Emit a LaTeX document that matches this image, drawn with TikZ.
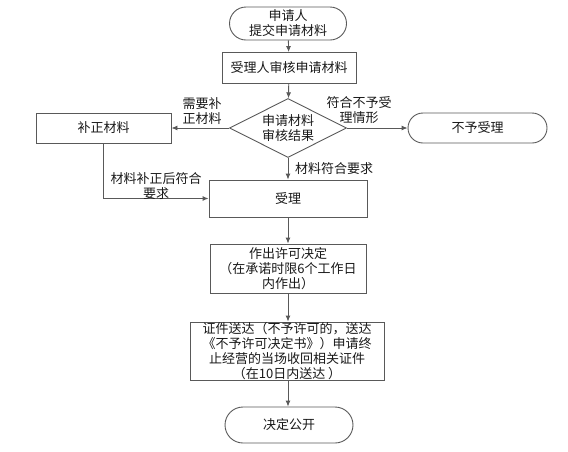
\documentclass[tikz,border=0pt]{standalone}
\usepackage{fontspec}
\setmainfont{Noto Sans CJK SC}
\usetikzlibrary{shapes.misc,shapes.geometric,arrows.meta}
\begin{document}
\begin{tikzpicture}[x=1pt,y=-1pt,
  every node/.style={font=\fontsize{13}{15}\selectfont, text=black!90, inner sep=0pt},
  box/.style={draw=black!65, line width=0.9pt, fill=white, align=center},
  term/.style={draw=black!65, line width=0.9pt, rounded rectangle, align=center},
  dia/.style={draw=black!65, line width=0.9pt, diamond, aspect=2, align=center},
  arr/.style={draw=black!65, line width=0.9pt, -{Latex[length=6pt,width=5pt]}},
  lab/.style={align=center}]
\useasboundingbox (0,0) rectangle (568,451);
\node[term, minimum width=117pt, minimum height=33pt] (start) at (288,23.5) {申请人\\提交申请材料};
\node[box, minimum width=134pt, minimum height=31pt] (review) at (289,68) {受理人审核申请材料};
\node[dia, minimum width=117pt, minimum height=59pt] (dec) at (288,128) {申请材料\\审核结果};
\node[box, minimum width=135pt, minimum height=30pt] (fix) at (103.5,128) {补正材料};
\node[term, minimum width=139pt, minimum height=30pt] (rej) at (477.5,128) {不予受理};
\node[box, minimum width=158pt, minimum height=37pt] (acc) at (288,198.5) {受理};
\node[box, minimum width=156pt, minimum height=49pt] (make) at (288,268.5) {作出许可决定\\（在承诺时限6个工作日\\内作出）};
\node[box, minimum width=194pt, minimum height=58pt] (send) at (287,351) {证件送达（不予许可的，送达\\《不予许可决定书》）申请终\\止经营的当场收回相关证件\\（在10日内送达 ）};
\node[term, minimum width=128pt, minimum height=36pt] (pub) at (289,425) {决定公开};
\draw[arr] (start) -- (review);
\draw[arr] (review) -- (dec);
\draw[arr] (dec) -- (fix);
\draw[arr] (dec) -- (rej);
\draw[arr] (dec) -- (acc);
\coordinate (c1) at (fix.south |- acc.west);
\draw[arr] (fix.south) -- (c1) -- (acc.west);
\draw[arr] (acc) -- (make);
\draw[arr] (make.south) -- (make.south |- send.north);
\draw[arr] (make.south |- send.south) -- (make.south |- pub.north);
\node[lab] (l1) at (202,111) {需要补\\正材料};
\node[lab] (l2) at (359,110) {符合不予受\\理情形};
\node[lab, anchor=west] (l3) at (295,169) {材料符合要求};
\node[lab] (l4) at (156,186) {材料补正后符合\\要求};
\end{tikzpicture}
\end{document}
